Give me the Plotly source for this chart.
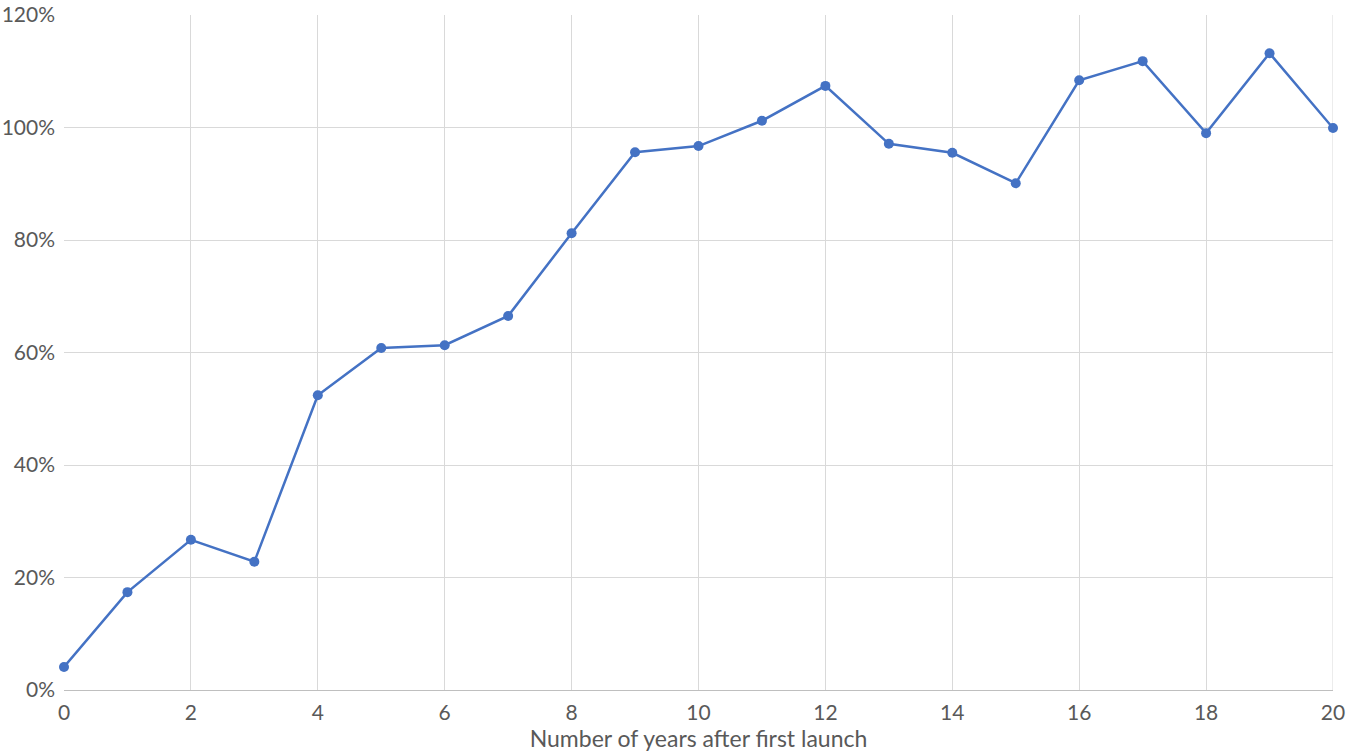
import plotly.graph_objects as go

years = list(range(21))
share = [4.1, 17.4, 26.7, 22.8, 52.4, 60.8, 61.3, 66.5, 81.2, 95.6, 96.7,
         101.2, 107.4, 97.1, 95.5, 90.1, 108.4, 111.8, 99.0, 113.2, 99.9]
share = [v / 100 for v in share]

fig = go.Figure(go.Scatter(
    x=years, y=share, mode="lines+markers",
    line=dict(color="#4472C4", width=2.5),
    marker=dict(color="#4472C4", size=10),
    cliponaxis=False,
))

font = dict(family="Lato, Carlito, sans-serif", size=21, color="#595959")
fig.update_layout(
    width=1346, height=753,
    margin=dict(l=64, r=13, t=15, b=63, autoexpand=False),
    plot_bgcolor="white", paper_bgcolor="white",
    showlegend=False,
    font=font,
)
fig.update_xaxes(
    range=[0, 20], tickmode="linear", tick0=0, dtick=2,
    showgrid=True, gridcolor="#D9D9D9", gridwidth=1,
    showline=True, linecolor="#BFBFBF", linewidth=1,
    zeroline=False, ticks="", ticklen=0, automargin=False,
    ticklabelstandoff=4,
    title=dict(text="Number of years after first launch", standoff=0,
               font=dict(size=23, color="#595959")),
    tickfont=font,
)
fig.update_yaxes(
    range=[0, 1.2], tickmode="linear", tick0=0, dtick=0.2,
    tickformat=".0%", automargin=False,
    showgrid=True, gridcolor="#D9D9D9", gridwidth=1,
    zeroline=False, showline=False, ticks="", ticklabelstandoff=8,
    tickfont=font,
)
# right border gridline
fig.add_shape(type="line", xref="x", yref="paper", x0=20, x1=20, y0=0, y1=1,
              line=dict(color="#D9D9D9", width=1), layer="below")

fig.write_html("out.html", config={"displayModeBar": False},
               post_script="document.body.style.margin='0';")
